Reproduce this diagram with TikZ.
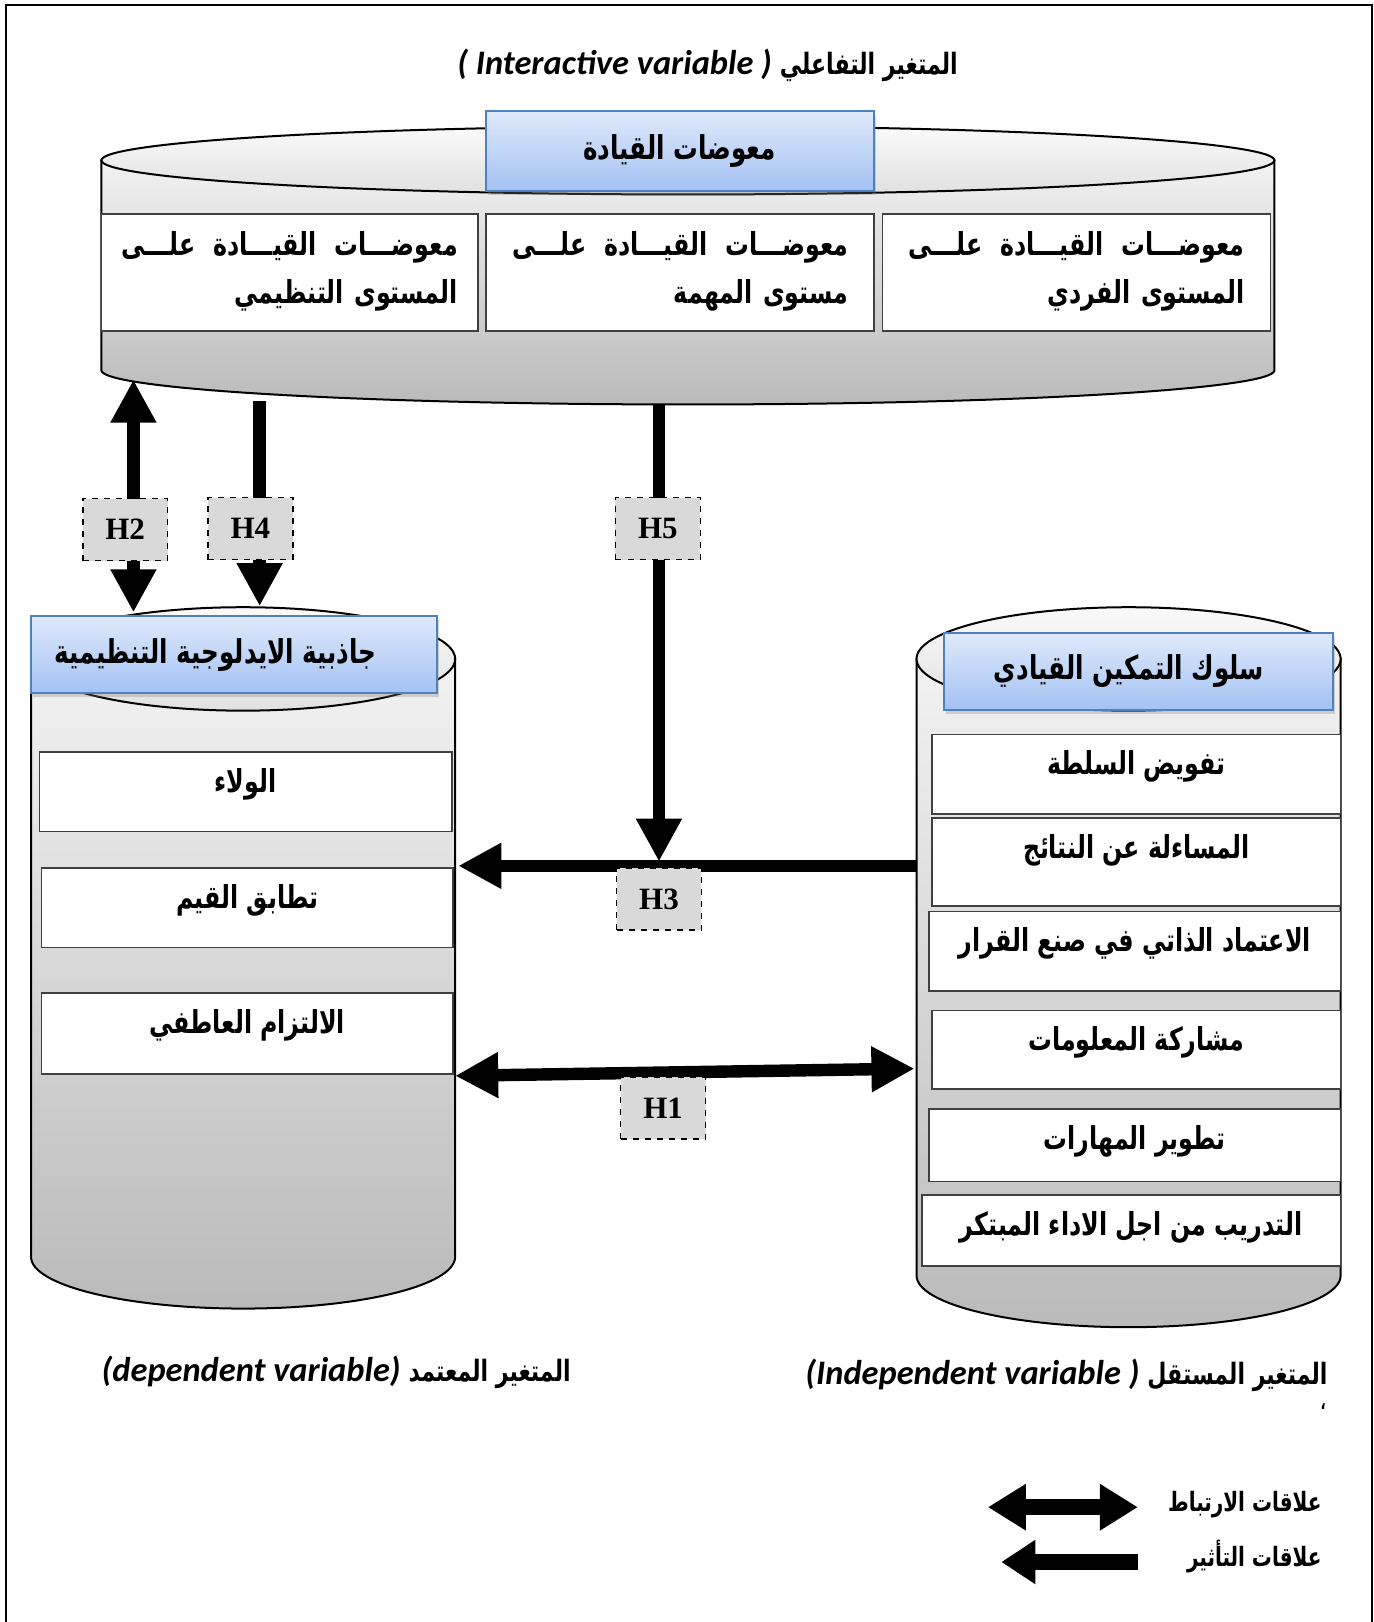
\documentclass[tikz,border=0pt]{standalone}
\usepackage{fontspec}
\setmainfont{Liberation Serif}
\newfontfamily\arabicfont[Script=Arabic,FakeStretch=0.75]{DejaVu Sans}
\newfontfamily\engfont{Carlito}
\TeXXeTstate=1
\usetikzlibrary{arrows.meta,shadows}

\definecolor{headtop}{HTML}{DFE9FB}
\definecolor{headbot}{HTML}{A4C2F4}
\definecolor{headline}{HTML}{4F81BD}
\definecolor{hypgray}{HTML}{D9D9D9}

\newcommand{\ar}[1]{{\arabicfont\bfseries\beginR #1\endR}}
\newcommand{\en}[1]{{\engfont\bfseries\itshape\fontsize{17.2}{20}\selectfont #1}}
\newcommand{\tl}[1]{{\fontsize{14.7}{17}\selectfont\ar{#1}}}
%% cylinder: centre x, lid y, floor y, x radius, y radius
\newcommand{\drum}[5]{%
  \draw[drumDecorate] (#1-#4,#2) -- (#1-#4,#3)
    arc[start angle=180,end angle=0,x radius=#4,y radius=#5] -- (#1+#4,#2) -- cycle;
  \draw[lidDecorate] (#1,#2) ellipse[x radius=#4,y radius=#5];
}

\begin{document}
\begin{tikzpicture}
[x=0.517pt,y=-0.517pt,
  drumDecorate/.style={draw,line width=1pt,top color=black!5,bottom color=black!27},%
  lidDecorate/.style={draw,line width=1pt,top color=black!2,bottom color=black!12},%
  headDecorate/.style={draw=headline,line width=1pt,top color=headtop,bottom color=headbot,
    drop shadow={shadow xshift=1pt,shadow yshift=-2pt,opacity=0.3},
    font=\fontsize{16.4}{19}\selectfont},%
  itemDecorate/.style={draw=black!75,line width=0.8pt,fill=white},%
  hypDecorate/.style={draw,dashed,fill=hypgray,line width=0.8pt,minimum width=42.4pt,
    minimum height=31pt,font=\bfseries\fontsize{15.5}{18}\selectfont},%
  lineDecorate/.style={line width=6.2pt},%
  legendDecorate/.style={line width=8.3pt},%
  >={Triangle[width=21.5pt,length=21.5pt]}]
\useasboundingbox (0,0) rectangle (1328,1568);
\fontsize{15.8}{19}\selectfont
%% frame
\draw[line width=1pt] (6,1568) -- (6,5) -- (1326,5) -- (1326,1568);

%% titles
\node (titleTop) at (684,63) {\en{( Interactive variable )} \tl{المتغير التفاعلي}};
\node (titleDep) at (325,1327) {\en{(dependent variable)} \tl{المتغير المعتمد}};
\node (titleInd) at (1031,1330) {\en{(Independent variable )} \tl{المتغير المستقل}};
\node (stray) at (1279,1360) {\fontsize{9}{9}\selectfont\ar{،}};

%% cylinders
\drum{665}{155}{358}{567}{33}
\drum{235}{637}{1215}{205}{50}
\drum{1091}{637}{1233}{205}{50}

%% boxes of the top cylinder
\foreach \nodename/\xa/\xb/\txt in {lvlOrg/98/462/المستوى التنظيمي,
  lvlTask/470/845/مستوى المهمة, lvlInd/853/1228/المستوى  الفردي}
{
  \draw[itemDecorate] (\xa,207) rectangle (\xb,320);
  \node (\nodename) at ({(\xa+\xb)/2},262) [text width=168pt,align=right]
    {\hbox to\hsize{\ar{معوضـــات\hfill القيـــادة\hfill علـــى}}\\[5pt] \ar{\txt}};
}

%% boxes of the two lower cylinders
\foreach \nodename/\xa/\ya/\xb/\yb/\txt in {dep1/38/727/437/804/الولاء,
  dep2/40/839/438/916/تطابق القيم, dep3/40/960/438/1038/الالتزام العاطفي,
  ind1/901/710/1296/787/تفويض السلطة, ind2/901/791/1296/876/المساءلة عن النتائج,
  ind3/898/881/1296/958/الاعتماد الذاتي في صنع القرار,
  ind4/901/977/1296/1053/مشاركة المعلومات, ind5/898/1072/1296/1142/تطوير المهارات,
  ind6/891/1155/1296/1224/التدريب من اجل الاداء المبتكر}
{
  \draw[itemDecorate] (\xa,\ya) rectangle (\xb,\yb);
  \node (\nodename) at ({(\xa+\xb)/2},\ya+31) {\ar{\txt}};
}

%% headers
\node (hdTop) at (657,146) [headDecorate,minimum width=194pt,minimum height=39.8pt] {\ar{معوضات القيادة}};
\node (hdDep) at (226,633) [headDecorate,minimum width=203pt,minimum height=38.3pt] {\ar{جاذبية الايدلوجية التنظيمية}\kern18pt};
\node (hdInd) at (1101,649) [headDecorate,minimum width=194.4pt,minimum height=38.3pt] {\ar{سلوك التمكين القيادي}\kern10pt};

%% arrow ends
\foreach \nodename/\x/\y in {h2a/129/367, h2b/129/592, h4a/251/388, h4b/251/586,
  h5a/637/392, h5b/637/833, h3a/886/837, h3b/443/837, h1a/440/1040, h1b/884/1033,
  lgA/955/1457, lgB/1100/1457, lgC/1100/1510, lgD/968/1510}
{
  \coordinate (\nodename) at (\x,\y);
}
\draw[lineDecorate,<->] (h2a) -- (h2b);
\draw[lineDecorate,->] (h4a) -- (h4b);
\draw[lineDecorate,->] (h5a) -- (h5b);
\draw[lineDecorate,->] (h3a) -- (h3b);
\draw[lineDecorate,<->] (h1a) -- (h1b);

%% hypotheses
\foreach \nodename/\x/\y in {H2/121/512, H4/242/511, H5/636/511, H3/637/869, H1/641/1071}
{
  \node (\nodename) at (\x,\y) [hypDecorate] {\nodename};
}

%% legend
\draw[legendDecorate,{Triangle[width=22pt,length=19pt]}-{Triangle[width=22pt,length=19pt]}] (lgA) -- (lgB);
\draw[legendDecorate,-{Triangle[width=21pt,length=17pt]}] (lgC) -- (lgD);
\node (lgTie) at (1288,1455) [anchor=east,font=\fontsize{13.3}{16}\selectfont] {\ar{علاقات الارتباط}};
\node (lgEffect) at (1288,1505) [anchor=east,font=\fontsize{13.3}{16}\selectfont] {\ar{علاقات التأثير}};
\end{tikzpicture}
\end{document}
